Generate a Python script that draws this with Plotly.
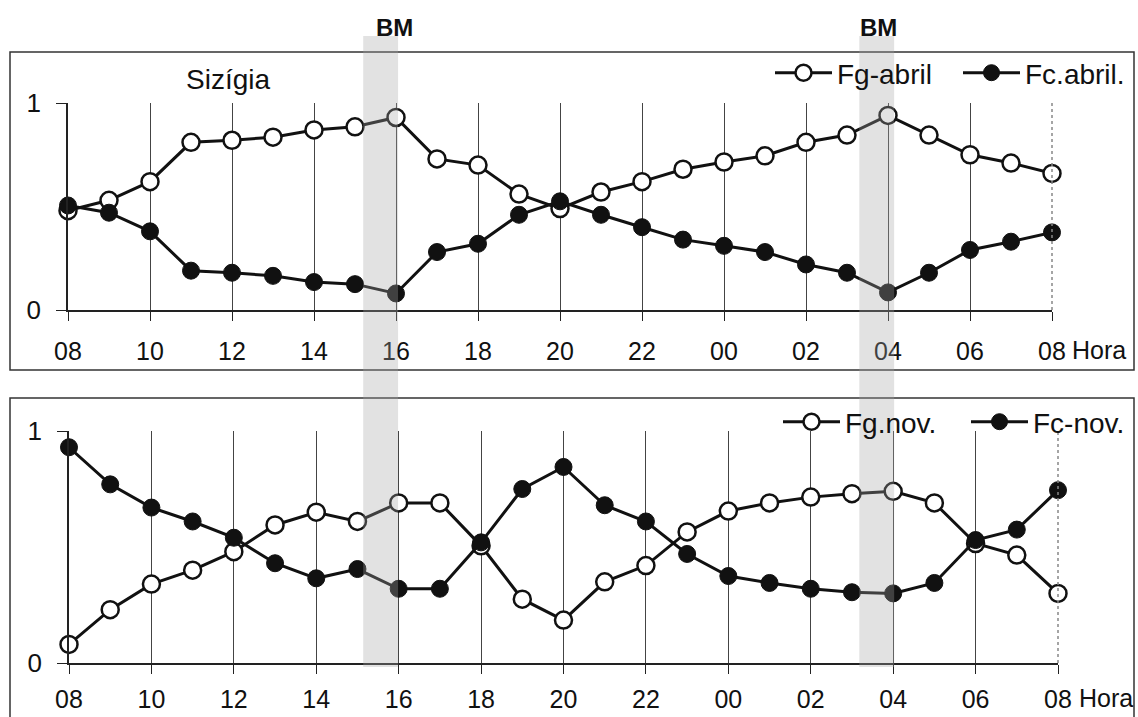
import plotly.graph_objects as go

hours = ["08","09","10","11","12","13","14","15","16","17","18","19","20",
         "21","22","23","00","01","02","03","04","05","06","07","08"]

fg_abril = [0.48,0.53,0.62,0.81,0.82,0.835,0.87,0.885,0.93,0.73,0.70,0.56,0.49,
            0.57,0.62,0.68,0.715,0.745,0.81,0.845,0.94,0.845,0.75,0.71,0.66]
fc_abril = [0.505,0.47,0.38,0.19,0.18,0.165,0.135,0.125,0.08,0.28,0.32,0.46,0.525,
            0.46,0.40,0.34,0.31,0.28,0.22,0.18,0.085,0.18,0.29,0.33,0.375]

fg_nov = [0.08,0.23,0.34,0.40,0.48,0.595,0.65,0.61,0.69,0.69,0.505,0.275,0.185,
          0.35,0.42,0.565,0.655,0.69,0.715,0.73,0.74,0.69,0.515,0.465,0.30]
fc_nov = [0.93,0.77,0.67,0.61,0.54,0.43,0.365,0.405,0.32,0.32,0.52,0.75,0.845,
          0.68,0.61,0.47,0.375,0.345,0.32,0.305,0.30,0.345,0.53,0.575,0.745]

# BM (baixa-mar) bands, in hour-index units
bm_bands = [(7.2, 8.05), (19.3, 20.15)]

W, H = 1138, 717
FONT = "Liberation Sans, Arial, sans-serif"
idx = list(range(len(hours)))
tickpos = idx[::2]
ticktxt = hours[::2]

def px(x):
    return x / W

def py(y):
    return 1 - y / H

fig = go.Figure()

def add_pair(open_vals, filled_vals, open_name, filled_name, xa, ya, leg):
    fig.add_trace(go.Scatter(
        x=idx, y=open_vals, name=open_name, mode="lines+markers",
        xaxis=xa, yaxis=ya, legend=leg, cliponaxis=False,
        line=dict(color="#111", width=3),
        marker=dict(symbol="circle", size=17, color="white",
                    line=dict(color="#111", width=2.5))))
    fig.add_trace(go.Scatter(
        x=idx, y=filled_vals, name=filled_name, mode="lines+markers",
        xaxis=xa, yaxis=ya, legend=leg, cliponaxis=False,
        line=dict(color="#111", width=3),
        marker=dict(symbol="circle", size=17, color="#111",
                    line=dict(color="#111", width=1))))

add_pair(fg_abril, fc_abril, "Fg-abril", "Fc.abril.", "x", "y", "legend")
add_pair(fg_nov, fc_nov, "Fg.nov.", "Fc-nov.", "x2", "y2", "legend2")

def xaxis_style(standoff):
    return dict(
        range=[0, 24], tickmode="array", tickvals=tickpos, ticktext=ticktxt,
        showgrid=False, zeroline=False, showline=True, linecolor="#222", linewidth=1.5,
        ticks="outside", ticklen=9, tickcolor="#222", tickwidth=1, automargin=False,
        tickfont=dict(family=FONT, size=25, color="#111"), ticklabelstandoff=standoff,
        minor=dict(tickmode="array", tickvals=tickpos[1:-1], showgrid=True,
                   gridcolor="#444", gridwidth=1, ticks=""),
        fixedrange=True)

ycommon = dict(
    range=[0, 1], tickmode="array", tickvals=[0, 1], ticktext=["0", "1"],
    showgrid=True, gridcolor="#888", griddash="dot", gridwidth=1.5,
    zeroline=False, showline=True, linecolor="#222", linewidth=1.5,
    ticks="outside", ticklen=10, tickcolor="#222", automargin=False,
    tickfont=dict(family=FONT, size=26, color="#111"), ticklabelstandoff=10,
    fixedrange=True)

legend_common = dict(orientation="h", xanchor="left", yanchor="middle",
                     font=dict(family=FONT, size=28, color="#111"),
                     bgcolor="rgba(0,0,0,0)", itemwidth=57,
                     entrywidth=116, entrywidthmode="pixels")

fig.update_layout(
    width=W, height=H, margin=dict(l=0, r=0, t=0, b=0, autoexpand=False),
    paper_bgcolor="white", plot_bgcolor="white",
    xaxis=dict(domain=[px(68), px(1052)], anchor="y", **xaxis_style(9)),
    yaxis=dict(domain=[py(310), py(103)], anchor="x", **ycommon),
    xaxis2=dict(domain=[px(69), px(1058)], anchor="y2", **xaxis_style(4)),
    yaxis2=dict(domain=[py(663), py(431)], anchor="x2", **ycommon),
    legend=dict(x=px(770), y=py(73), **legend_common),
    legend2=dict(x=px(778), y=py(422), **legend_common),
    showlegend=True,
)

shapes = []
# panel frames
shapes.append(dict(type="rect", xref="paper", yref="paper",
                   x0=px(10), x1=px(1134), y0=py(370), y1=py(52),
                   line=dict(color="#333", width=1.5), layer="below"))
shapes.append(dict(type="rect", xref="paper", yref="paper",
                   x0=px(10), x1=px(1134), y0=py(730), y1=py(398),
                   line=dict(color="#333", width=1.5), layer="below"))
# dotted right border of plot areas
for xr, yr in (("x domain", "y domain"), ("x2 domain", "y2 domain")):
    shapes.append(dict(type="line", xref=xr, yref=yr, x0=1, x1=1, y0=0, y1=1,
                       line=dict(color="#888", width=1.5, dash="dot")))
# BM bands spanning both panels
for a, b in bm_bands:
    shapes.append(dict(type="rect", xref="x", yref="paper", x0=a, x1=b,
                       y0=py(667), y1=py(36), fillcolor="rgba(165,165,165,0.32)",
                       line=dict(width=0), layer="above"))
fig.update_layout(shapes=shapes)

ann = []
for cx in (394, 878):
    ann.append(dict(text="<b>BM</b>", x=px(cx), y=py(28), xref="paper", yref="paper",
                    xanchor="center", yanchor="middle",
                    showarrow=False, font=dict(family=FONT, size=24, color="#111")))
ann.append(dict(text="Sizígia", x=px(228), y=py(80), xref="paper", yref="paper",
                xanchor="center", yanchor="middle",
                showarrow=False, font=dict(family=FONT, size=28, color="#111")))
ann.append(dict(text="Hora", x=px(1070), y=py(350), xref="paper", yref="paper",
                xanchor="left", yanchor="middle", showarrow=False,
                font=dict(family=FONT, size=25, color="#111")))
ann.append(dict(text="Hora", x=px(1077), y=py(698), xref="paper", yref="paper",
                xanchor="left", yanchor="middle", showarrow=False,
                font=dict(family=FONT, size=25, color="#111")))
fig.update_layout(annotations=ann)

fig.write_html("out.html")
